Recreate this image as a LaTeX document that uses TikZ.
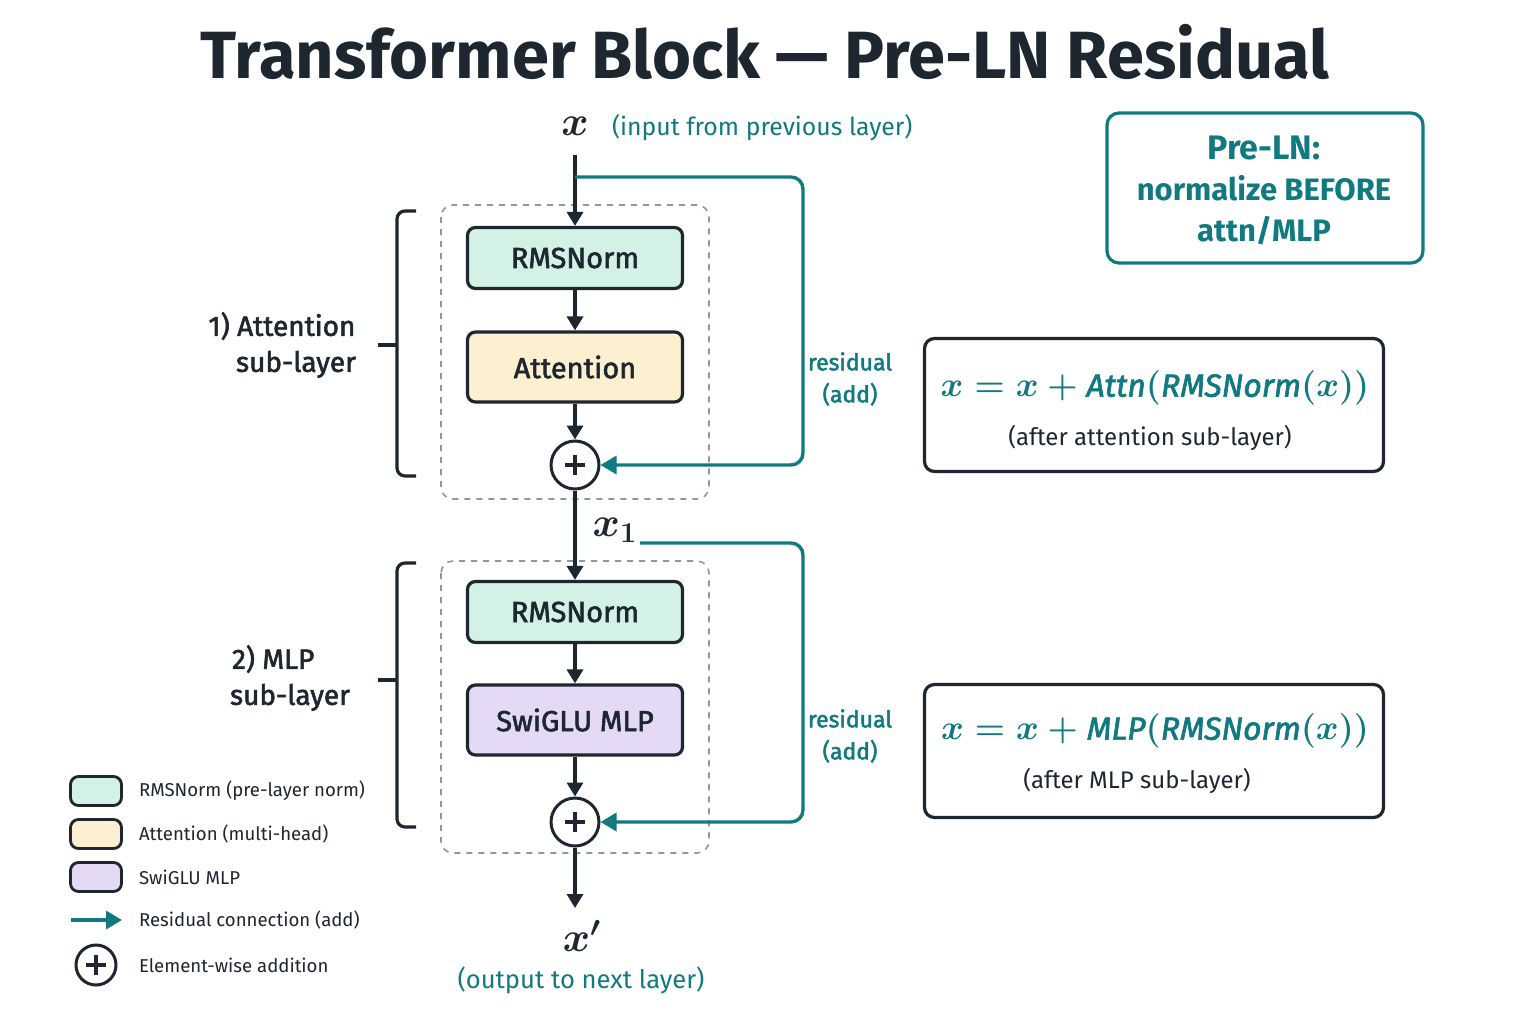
\documentclass[tikz,border=0pt]{standalone}
\usepackage{amsmath}
\usepackage{fontspec}
\setmainfont{Fira Sans}
\newfontfamily\medfont{Fira Sans}[FakeBold=2]
\usetikzlibrary{positioning, arrows.meta}
\definecolor{tfdark}{RGB}{30, 38, 48}
\definecolor{tfteal}{RGB}{16, 122, 128}
\definecolor{tfmint}{RGB}{212, 241, 230}
\definecolor{tfcream}{RGB}{253, 240, 208}
\definecolor{tflilac}{RGB}{228, 218, 246}
\definecolor{tfgray}{RGB}{150, 150, 150}
\tikzset{
    blockbox/.style={draw=tfdark, line width=1.6pt, rounded corners=4pt, minimum width=107.5pt, text=tfdark, font=\fontsize{14.5}{16}\selectfont\medfont},
    normbox/.style={blockbox, fill=tfmint, minimum height=30.5pt},
    attnbox/.style={blockbox, fill=tfcream, minimum height=35pt},
    mlpbox/.style={blockbox, fill=tflilac, minimum height=35pt},
    addnode/.style={circle, draw=tfdark, line width=1.5pt, fill=white, minimum size=24pt, inner sep=0pt,
        path picture={\draw[tfdark, line width=1.8pt] (path picture bounding box.center) ++(-5pt,0pt) -- ++(10pt,0pt)
            (path picture bounding box.center) ++(0pt,-5pt) -- ++(0pt,10pt);}},
    flow/.style={draw=tfdark, line width=1.7pt, -{Triangle[length=7pt, width=8pt]}},
    res/.style={draw=tfteal, line width=1.7pt, rounded corners=6pt, -{Triangle[length=8pt, width=9pt]}},
    groupbox/.style={draw=tfgray, dashed, line width=0.8pt, rounded corners=6pt},
    bracket/.style={draw=tfdark, line width=1.6pt, rounded corners=4pt},
    sublabel/.style={text=tfdark, align=center, font=\fontsize{14}{18}\selectfont\medfont},
    reslabel/.style={text=tfteal, align=center, font=\fontsize{11.5}{16}\selectfont\medfont},
    eqbox/.style={draw=tfdark, line width=1.6pt, rounded corners=5pt, minimum width=229.5pt, minimum height=66.5pt},
    eqtext/.style={text=tfteal, font=\fontsize{16}{20}\selectfont\medfont\boldmath},
    eqnote/.style={text=tfdark, font=\fontsize{12}{14}\selectfont},
    swatch/.style={draw=tfdark, line width=1.4pt, rounded corners=4pt, minimum width=25.5pt, minimum height=14.5pt},
    legtext/.style={text=tfdark, anchor=west, font=\fontsize{9.3}{12}\selectfont}
}
\begin{document}
\begin{tikzpicture}[x=0.5pt, y=-0.5pt]
\useasboundingbox[fill=white] (0,0) rectangle (1536,1024);
% title
\node[text=tfdark, font=\fontsize{33.4}{40}\selectfont\bfseries] (title) at (765,52) {Transformer Block --- Pre-LN Residual};
% input
\node[text=tfdark, font=\fontsize{22}{24}\selectfont\boldmath] (xin) at (575,126) {$x$};
\node[text=tfteal, anchor=west, font=\fontsize{12.4}{16}\selectfont] (xinlab) at (605,128) {(input from previous layer)};
% attention sub-layer
\draw[groupbox] (441,205) rectangle (709,499);
\node[normbox] (norm1) at (575,258) {RMSNorm};
\node[attnbox] (attn) at (575,367) {Attention};
\node[addnode] (add1) at (575,465) {};
% mlp sub-layer
\draw[groupbox] (441,561) rectangle (709,853);
\node[normbox] (norm2) at (575,612) {RMSNorm};
\node[mlpbox] (mlp) at (575,720) {SwiGLU MLP};
\node[addnode] (add2) at (575,822) {};
% output
\node[text=tfdark, font=\fontsize{20}{22}\selectfont\boldmath] (xmid) at (615,530) {$x_1$};
\node[text=tfdark, font=\fontsize{22}{24}\selectfont\boldmath] (xout) at (582,936) {$x'$};
\node[text=tfteal, font=\fontsize{12.8}{16}\selectfont] (xoutlab) at (581,980) {(output to next layer)};
% main flow
\coordinate (tap1) at (575,177);
\coordinate (tap2) at (640,543);
\coordinate (turn1) at (803,300);
\coordinate (turn2) at (803,680);
\draw[flow] (575,155) -- (norm1);
\draw[flow] (norm1) -- (attn);
\draw[flow] (attn) -- (add1);
\draw[flow] (add1) -- (norm2);
\draw[flow] (norm2) -- (mlp);
\draw[flow] (mlp) -- (add2);
\draw[flow] (add2) -- (575,908);
% residual paths
\draw[res] (tap1) -| (turn1) |- (add1);
\draw[res] (tap2) -| (turn2) |- (add2);
\node[reslabel] (res1) at (850,379) {residual\\(add)};
\node[reslabel] (res2) at (850,736) {residual\\(add)};
% brackets
\draw[bracket] (416,211) -- (397,211) -- (397,476) -- (416,476);
\draw[bracket] (378,345) -- (397,345);
\draw[bracket] (416,563) -- (397,563) -- (397,827) -- (416,827);
\draw[bracket] (378,680) -- (397,680);
\node[sublabel] (sub1) at (282,345) {1) Attention\\\hspace*{1em}sub-layer};
\node[sublabel] (sub2) at (290,678) {2) MLP\hspace*{1.2em}\\sub-layer};
% pre-ln note
\node[draw=tfteal, line width=1.6pt, rounded corners=6pt, minimum width=158pt, minimum height=75pt] (prebox) at (1265,188) {};
\node[text=tfteal, align=center, font=\fontsize{15.5}{20.5}\selectfont\bfseries] (pretext) at (1264,190)
    {{\fontsize{17}{20.5}\selectfont Pre-LN:}\\normalize BEFORE\\attn/MLP};
% equations
\node[eqbox] (eq1box) at (1154,405) {};
\node[eqtext] (eq1) at (1155,388) {$x = x + \textit{Attn}(\textit{RMSNorm}(x))$};
\node[eqnote] (eq1note) at (1150,438) {(after attention sub-layer)};
\node[eqbox] (eq2box) at (1154,751) {};
\node[eqtext] (eq2) at (1155,731) {$x = x + \textit{MLP}(\textit{RMSNorm}(x))$};
\node[eqnote] (eq2note) at (1137,781) {(after MLP sub-layer)};
% legend
\node[swatch, fill=tfmint] (leg1) at (96,791) {};
\node[swatch, fill=tfcream] (leg2) at (96,834) {};
\node[swatch, fill=tflilac] (leg3) at (96,877) {};
\coordinate (leg4a) at (71,920);
\coordinate (leg4b) at (122,920);
\draw[draw=tfteal, line width=1.7pt, -{Triangle[length=8pt, width=9pt]}] (leg4a) -- (leg4b);
\node[addnode, minimum size=20pt] (leg5) at (96,965) {};
\node[legtext] at (132,791) {RMSNorm (pre-layer norm)};
\node[legtext] at (132,834) {Attention (multi-head)};
\node[legtext] at (132,877) {SwiGLU MLP};
\node[legtext] at (132,920) {Residual connection (add)};
\node[legtext] at (132,965) {Element-wise addition};
\end{tikzpicture}
\end{document}
